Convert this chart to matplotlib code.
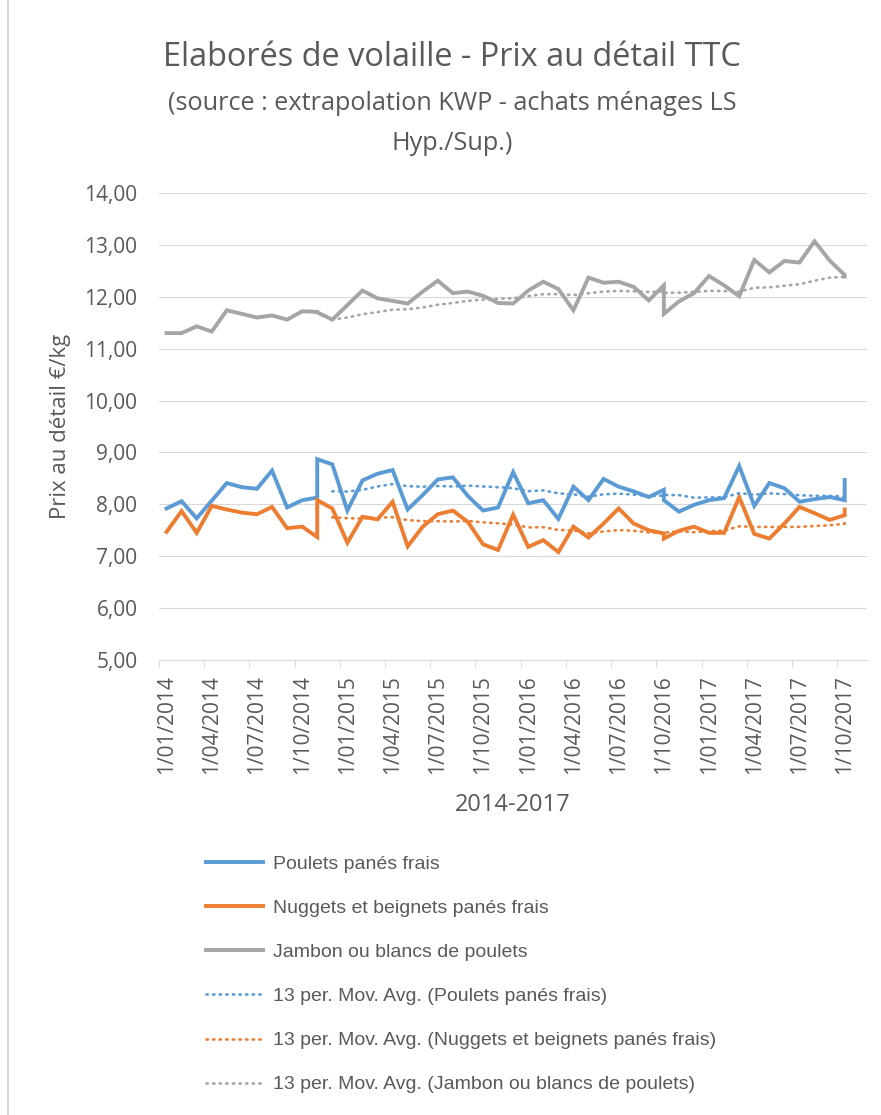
import numpy as np
import pandas as pd
import matplotlib
matplotlib.use("Agg")
import matplotlib.pyplot as plt
from matplotlib.lines import Line2D
from matplotlib.ticker import FixedLocator, FuncFormatter, NullFormatter

plt.rcParams["font.family"] = ["Open Sans", "DejaVu Sans"]

# mois de rattachement de chaque période 4 semaines (certains mois en ont deux)
periodes = [
    "2014-01", "2014-02", "2014-03", "2014-04", "2014-05", "2014-06", "2014-07",
    "2014-08", "2014-09", "2014-10", "2014-11", "2014-11", "2014-12",
    "2015-01", "2015-02", "2015-03", "2015-04", "2015-05", "2015-06", "2015-07",
    "2015-08", "2015-09", "2015-10", "2015-11", "2015-12",
    "2016-01", "2016-02", "2016-03", "2016-04", "2016-05", "2016-06", "2016-07",
    "2016-08", "2016-09", "2016-10", "2016-10", "2016-11", "2016-12",
    "2017-01", "2017-02", "2017-03", "2017-04", "2017-05", "2017-06", "2017-07",
    "2017-08", "2017-09", "2017-10", "2017-10",
]

poulets = [
    7.92, 8.06, 7.73, 8.07, 8.41, 8.33, 8.30, 8.65, 7.94, 8.08, 8.13, 8.87, 8.77,
    7.88, 8.46, 8.59, 8.66, 7.90, 8.18, 8.48, 8.52, 8.16, 7.88, 7.94, 8.62,
    8.02, 8.08, 7.72, 8.34, 8.08, 8.49, 8.34, 8.25, 8.14, 8.28, 8.08, 7.86, 7.99,
    8.08, 8.12, 8.74, 7.97, 8.41, 8.31, 8.05, 8.10, 8.14, 8.08, 8.47,
]
nuggets = [
    7.47, 7.87, 7.45, 7.97, 7.90, 7.84, 7.81, 7.95, 7.54, 7.57, 7.37, 8.08, 7.92,
    7.26, 7.76, 7.71, 8.05, 7.19, 7.57, 7.81, 7.88, 7.66, 7.23, 7.12, 7.80,
    7.18, 7.31, 7.08, 7.57, 7.36, 7.63, 7.92, 7.63, 7.50, 7.44, 7.34, 7.49, 7.57,
    7.45, 7.45, 8.14, 7.43, 7.34, 7.63, 7.95, 7.83, 7.70, 7.79, 7.90,
]
jambon = [
    11.30, 11.30, 11.43, 11.33, 11.74, 11.67, 11.60, 11.64, 11.56, 11.72, 11.71, 11.70, 11.56,
    11.84, 12.12, 11.97, 11.92, 11.87, 12.10, 12.31, 12.07, 12.10, 12.02, 11.88, 11.87,
    12.12, 12.29, 12.15, 11.74, 12.37, 12.27, 12.29, 12.19, 11.93, 12.22, 11.67, 11.91, 12.07,
    12.40, 12.22, 12.01, 12.71, 12.47, 12.69, 12.66, 13.07, 12.70, 12.42, 12.39,
]

noms = [
    "Poulets panés frais",
    "Nuggets et beignets panés frais",
    "Jambon ou blancs de poulets",
]
couleurs = ["#5B9BD5", "#ED7D31", "#A5A5A5"]
gris_texte = "#595959"
gris_grille = "#D9D9D9"

# axe des dates en mois depuis janvier 2014, point au milieu du mois
d = pd.to_datetime(periodes, format="%Y-%m")
x = (d.year - 2014) * 12 + (d.month - 1) + 0.5

fig = plt.figure(figsize=(8.81, 11.15), dpi=100)
ax = fig.add_axes([159 / 881, 1 - 660 / 1115, 708.3 / 881, 467 / 1115])

series = [poulets, nuggets, jambon]
lignes = []
for vals, c in zip(series, couleurs):
    (l,) = ax.plot(x, vals, color=c, lw=2.8, solid_joinstyle="miter", zorder=3)
    lignes.append(l)
moyennes = []
for vals, c in zip(series, couleurs):
    mm = pd.Series(vals).rolling(13).mean()
    (l,) = ax.plot(x, mm, color=c, lw=1.9, linestyle=(0, (0.5, 2.0)),
                   dash_capstyle="round", zorder=4)
    moyennes.append(l)

ax.set_ylim(5, 14)
ax.set_xlim(0, 47)
ax.yaxis.set_major_locator(FixedLocator(np.arange(5, 15, 1)))
ax.yaxis.set_major_formatter(FuncFormatter(lambda v, p: f"{v:.2f}".replace(".", ",")))
ax.grid(axis="y", color=gris_grille, lw=0.8)
ax.set_axisbelow(True)
ax.tick_params(axis="y", length=0, pad=15.5, labelsize=15, labelcolor=gris_texte)

# graduations en limites de trimestre, libellés au centre du mois
trimestres = np.arange(0, 46, 3)
ax.xaxis.set_major_locator(FixedLocator(trimestres))
ax.xaxis.set_major_formatter(NullFormatter())
ax.xaxis.set_minor_locator(FixedLocator(trimestres + 0.5))
ax.xaxis.set_minor_formatter(FuncFormatter(
    lambda v, p: f"1/{int(v) % 12 + 1:02d}/{2014 + int(v) // 12}"))
ax.tick_params(axis="x", which="major", length=5, color=gris_grille, width=0.8)
ax.tick_params(axis="x", which="minor", length=0, pad=11, labelsize=15,
               labelcolor=gris_texte, labelrotation=90)

for s in ["left", "right", "top"]:
    ax.spines[s].set_visible(False)
ax.spines["bottom"].set_color(gris_grille)
ax.spines["bottom"].set_linewidth(0.8)

ax.set_ylabel("Prix au détail €/kg", fontsize=16, color=gris_texte, va="center")
ax.yaxis.set_label_coords(-0.1384, 0.5)
ax.set_xlabel("2014-2017", fontsize=17, color=gris_texte, va="center")
ax.xaxis.set_label_coords(0.5, -0.3105)

fig.text(452 / 881, 1 - 58 / 1115, "Elaborés de volaille - Prix au détail TTC",
         ha="center", va="center", fontsize=23.4, color=gris_texte)
fig.text(452 / 881, 1 - 104 / 1115, "(source : extrapolation KWP - achats ménages LS",
         ha="center", va="center", fontsize=18.2, color=gris_texte)
fig.text(452 / 881, 1 - 143 / 1115, "Hyp./Sup.)",
         ha="center", va="center", fontsize=18.2, color=gris_texte)

etiquettes = noms + [f"13 per. Mov. Avg. ({n})" for n in noms]
leg = fig.legend(lignes + moyennes, etiquettes, loc="upper left",
                 bbox_to_anchor=(188 / 881, 1 - 838 / 1115), frameon=False,
                 prop={"family": ["Liberation Sans Narrow", "Liberation Sans"], "size": 14},
                 handlelength=2.95, handletextpad=0.5, labelspacing=1.36)
for t in leg.get_texts():
    t.set_color(gris_texte)

# cadre de la zone de graphique
fig.add_artist(Line2D([8 / 881, 8 / 881], [0, 1], color=gris_grille, lw=1.5))

fig.savefig("out.png", dpi=100)
